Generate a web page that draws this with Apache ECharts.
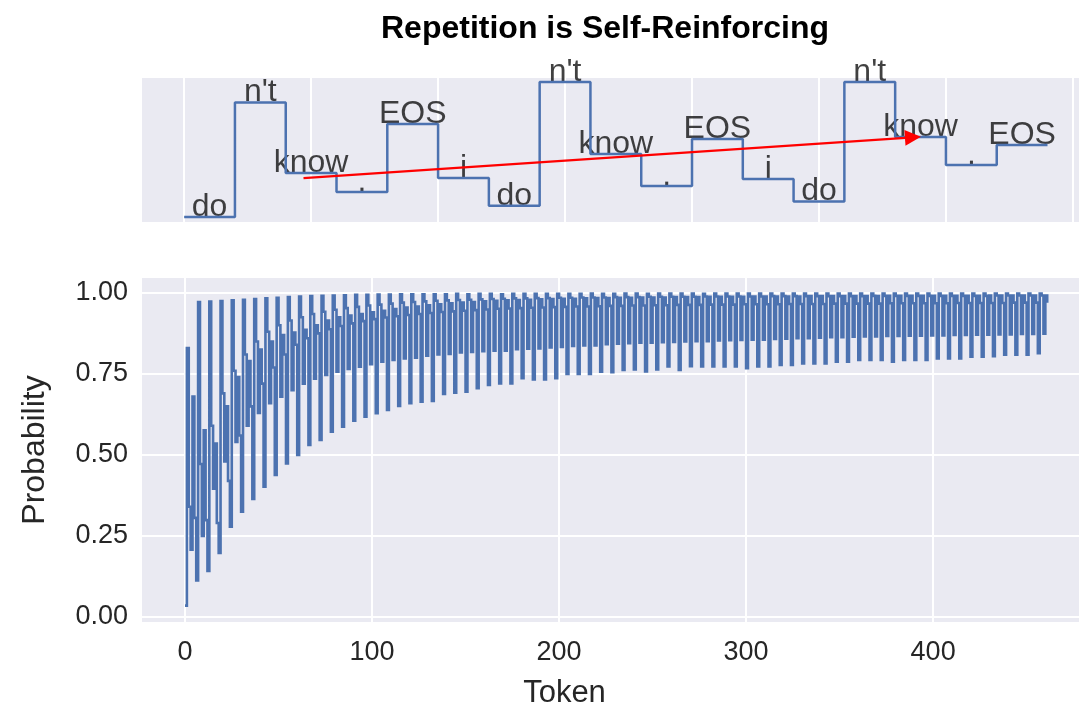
<!DOCTYPE html>
<html>
<head>
<meta charset="utf-8">
<script src="https://cdn.jsdelivr.net/npm/echarts@6/dist/echarts.min.js"></script>
<style>
html, body { margin: 0; padding: 0; background: #fff; }
#chart { width: 1079px; height: 713px; }
</style>
</head>
<body>
<div id="chart"></div>
<script>
// one sentence repeated: do n't know . EOS i
var words = ['do', "n't", 'know', '.', 'EOS', 'i'];

// probability of each word, one value per repetition
var probDo = [0.035,0.113,0.142,0.198,0.279,0.325,0.364,0.402,0.438,0.474,
  0.500,0.531,0.546,0.572,0.587,0.606,0.618,0.629,0.639,0.651,
  0.660,0.664,0.667,0.688,0.692,0.695,0.706,0.716,0.721,0.721,
  0.737,0.733,0.733,0.737,0.750,0.750,0.750,0.757,0.755,0.762,
  0.764,0.758,0.764,0.773,0.762,0.774,0.773,0.773,0.773,0.773,
  0.768,0.773,0.773,0.778,0.778,0.782,0.782,0.782,0.788,0.788,
  0.793,0.793,0.793,0.788,0.793,0.793,0.793,0.798,0.798,0.798,
  0.803,0.803,0.805,0.809,0.809,0.809,0.814];
var probNt = [0.830,0.972,0.973,0.975,0.977,0.979,0.981,0.983,0.985,0.987,
  0.989,0.990,0.991,0.992,0.993,0.994,0.994,0.995,0.995,0.996,
  0.996,0.996,0.996,0.996,0.997,0.996,0.997,0.997,0.996,0.997,
  0.997,0.997,0.997,0.997,0.997,0.997,0.998,0.997,0.997,0.998,
  0.998,0.997,0.998,0.998,0.998,0.998,0.997,0.998,0.998,0.998,
  0.998,0.998,0.998,0.998,0.998,0.998,0.998,0.998,0.998,0.998,
  0.998,0.998,0.998,0.998,0.998,0.998,0.998,0.998,0.998,0.998,
  0.998,0.998,0.998,0.998,0.998,0.998,0.998];
var probKnow = [0.340,0.472,0.590,0.690,0.760,0.810,0.850,0.880,0.900,0.915,
  0.925,0.935,0.942,0.948,0.953,0.957,0.961,0.964,0.967,0.970,
  0.972,0.974,0.976,0.977,0.978,0.979,0.980,0.981,0.982,0.983,
  0.983,0.984,0.984,0.985,0.985,0.986,0.986,0.986,0.987,0.987,
  0.987,0.988,0.988,0.988,0.988,0.988,0.989,0.989,0.989,0.989,
  0.989,0.989,0.990,0.990,0.990,0.990,0.990,0.990,0.990,0.990,
  0.990,0.991,0.991,0.991,0.991,0.991,0.991,0.991,0.991,0.991,
  0.991,0.991,0.992,0.992,0.992,0.992,0.992];
var probDot = [0.208,0.250,0.396,0.480,0.540,0.590,0.630,0.660,0.680,0.700,
  0.720,0.735,0.747,0.757,0.765,0.772,0.780,0.788,0.793,0.798,
  0.800,0.806,0.810,0.812,0.816,0.818,0.820,0.822,0.822,0.826,
  0.828,0.829,0.832,0.833,0.836,0.838,0.838,0.842,0.843,0.845,
  0.846,0.846,0.848,0.849,0.850,0.851,0.851,0.853,0.854,0.855,
  0.856,0.856,0.858,0.859,0.860,0.860,0.862,0.863,0.863,0.865,
  0.866,0.866,0.867,0.867,0.868,0.868,0.869,0.869,0.870,0.870,
  0.871,0.871,0.872,0.872,0.873,0.873,0.874];
var probEos = [0.680,0.576,0.535,0.650,0.740,0.790,0.825,0.850,0.870,0.878,
  0.886,0.900,0.915,0.925,0.930,0.935,0.940,0.945,0.950,0.955,
  0.958,0.962,0.965,0.968,0.970,0.972,0.974,0.976,0.977,0.978,
  0.979,0.980,0.981,0.982,0.982,0.983,0.984,0.984,0.985,0.985,
  0.986,0.986,0.986,0.987,0.987,0.987,0.988,0.988,0.988,0.988,
  0.989,0.989,0.989,0.989,0.989,0.990,0.990,0.990,0.990,0.990,
  0.990,0.990,0.991,0.991,0.991,0.991,0.991,0.991,0.991,0.991,
  0.991,0.992,0.992,0.992,0.992,0.992,0.992];
var probI = [0.306,0.299,0.290,0.420,0.560,0.650,0.720,0.770,0.810,0.840,
  0.860,0.875,0.888,0.898,0.906,0.913,0.919,0.924,0.928,0.932,
  0.935,0.938,0.941,0.943,0.945,0.947,0.949,0.951,0.952,0.953,
  0.954,0.955,0.956,0.957,0.958,0.958,0.959,0.960,0.960,0.961,
  0.961,0.962,0.962,0.963,0.963,0.963,0.964,0.964,0.964,0.965,
  0.965,0.965,0.965,0.966,0.966,0.966,0.966,0.967,0.967,0.967,
  0.967,0.967,0.968,0.968,0.968,0.968,0.968,0.968,0.969,0.969,
  0.969,0.969,0.969,0.970,0.970,0.970,0.970];

var xTicks = [0, 100, 200, 300, 400];
var yTicks = [0, 0.25, 0.5, 0.75, 1];
var topTicks = [0, 2.5, 5, 7.5, 10, 12.5, 15, 17.5];
var topCount = 17;          // tokens shown in the upper strip
var arrowFrom = [2.35, 0.305];
var arrowTo = [14.35, 0.588];

var font = '"Liberation Sans", Arial, sans-serif';
var ink = '#262626';
var blue = '#4C72B0';

// interleave the word arrays back into token order
var byPos = [probDo, probNt, probKnow, probDot, probEos, probI];
var seq = [];
for (var k = 0; k < probDo.length; k++) {
  for (var j = 0; j < byPos.length; j++) seq.push(byPos[j][k]);
}
var lineData = seq.map(function (v, i) { return [i, v]; });
var topData = lineData.slice(0, topCount);
topData.push([topCount, seq[topCount - 1]]);
var labelData = seq.slice(0, topCount).map(function (v, i) {
  return { name: words[i % words.length], value: [i + 0.5, v] };
});

// the built-in line drops steps narrower than 2px, so the long
// series is drawn as one step path through the axis scales
function renderSteps(params, api) {
  if (params.dataIndex !== 0) return null;
  var pts = [api.coord(lineData[0])];
  for (var i = 1; i < lineData.length; i++) {
    pts.push(api.coord([lineData[i][0], lineData[i - 1][1]]));
    pts.push(api.coord(lineData[i]));
  }
  return {
    type: 'polyline',
    shape: { points: pts },
    style: { stroke: blue, lineWidth: 2.6, fill: null, lineJoin: 'miter' },
    silent: true
  };
}

var chart = echarts.init(document.getElementById('chart'), null, { renderer: 'canvas' });

var option = {
  backgroundColor: '#fff',
  animation: false,
  textStyle: { fontFamily: font },
  title: {
    text: 'Repetition is Self-Reinforcing',
    left: 600, top: 8, textAlign: 'center',
    textStyle: { fontSize: 32, fontWeight: 'bold', color: '#000', fontFamily: font }
  },
  grid: [
    { left: 142, top: 78, width: 937, height: 144, show: true, backgroundColor: '#EAEAF2', borderWidth: 0 },
    { left: 142, top: 278, width: 937, height: 344, show: true, backgroundColor: '#EAEAF2', borderWidth: 0 }
  ],
  xAxis: [
    {
      gridIndex: 0, type: 'value', min: -0.83, max: 17.62,
      axisLine: { show: false },
      axisTick: { show: false, customValues: topTicks },
      axisLabel: { show: false, customValues: topTicks },
      splitLine: { show: true, lineStyle: { color: '#fff', width: 2 } }
    },
    {
      gridIndex: 1, type: 'value', min: -23, max: 478,
      axisLine: { show: false },
      axisTick: { show: false, customValues: xTicks },
      axisLabel: { customValues: xTicks, fontSize: 27, color: ink, margin: 17, fontFamily: font },
      splitLine: { show: true, lineStyle: { color: '#fff', width: 2 } },
      name: 'Token', nameLocation: 'middle', nameGap: 56,
      nameTextStyle: { fontSize: 31, color: ink, fontFamily: font, padding: [0, 92, 0, 0] }
    }
  ],
  yAxis: [
    {
      gridIndex: 0, type: 'value', min: 0, max: 1,
      axisLine: { show: false }, axisTick: { show: false },
      axisLabel: { show: false }, splitLine: { show: false }
    },
    {
      gridIndex: 1, type: 'value', min: -0.0154, max: 1.046,
      axisLine: { show: false },
      axisTick: { show: false, customValues: yTicks },
      axisLabel: {
        customValues: yTicks, fontSize: 27, color: ink, margin: 14, fontFamily: font,
        formatter: function (v) { return v.toFixed(2); }
      },
      splitLine: { show: true, lineStyle: { color: '#fff', width: 2 } },
      name: 'Probability', nameLocation: 'middle', nameGap: 91, nameRotate: 90,
      nameTextStyle: { fontSize: 32, color: ink, fontFamily: font }
    }
  ],
  series: [
    {
      type: 'line', xAxisIndex: 0, yAxisIndex: 0, step: 'end',
      data: topData, showSymbol: false, silent: true,
      lineStyle: { color: blue, width: 2.5 },
      markLine: {
        silent: true, symbol: ['none', 'triangle'], symbolSize: 16,
        lineStyle: { color: '#ff0000', width: 2.2, type: 'solid' },
        label: { show: false },
        data: [[{ coord: arrowFrom }, { coord: arrowTo }]]
      }
    },
    {
      type: 'scatter', xAxisIndex: 0, yAxisIndex: 0,
      data: labelData, symbolSize: 0, silent: true,
      label: {
        show: true, position: 'top', distance: -6, formatter: '{b}',
        fontSize: 32, color: '#111', fontFamily: font
      }
    },
    {
      type: 'custom', xAxisIndex: 1, yAxisIndex: 1,
      data: lineData, renderItem: renderSteps, silent: true
    }
  ]
};

chart.setOption(option);
</script>
</body>
</html>
